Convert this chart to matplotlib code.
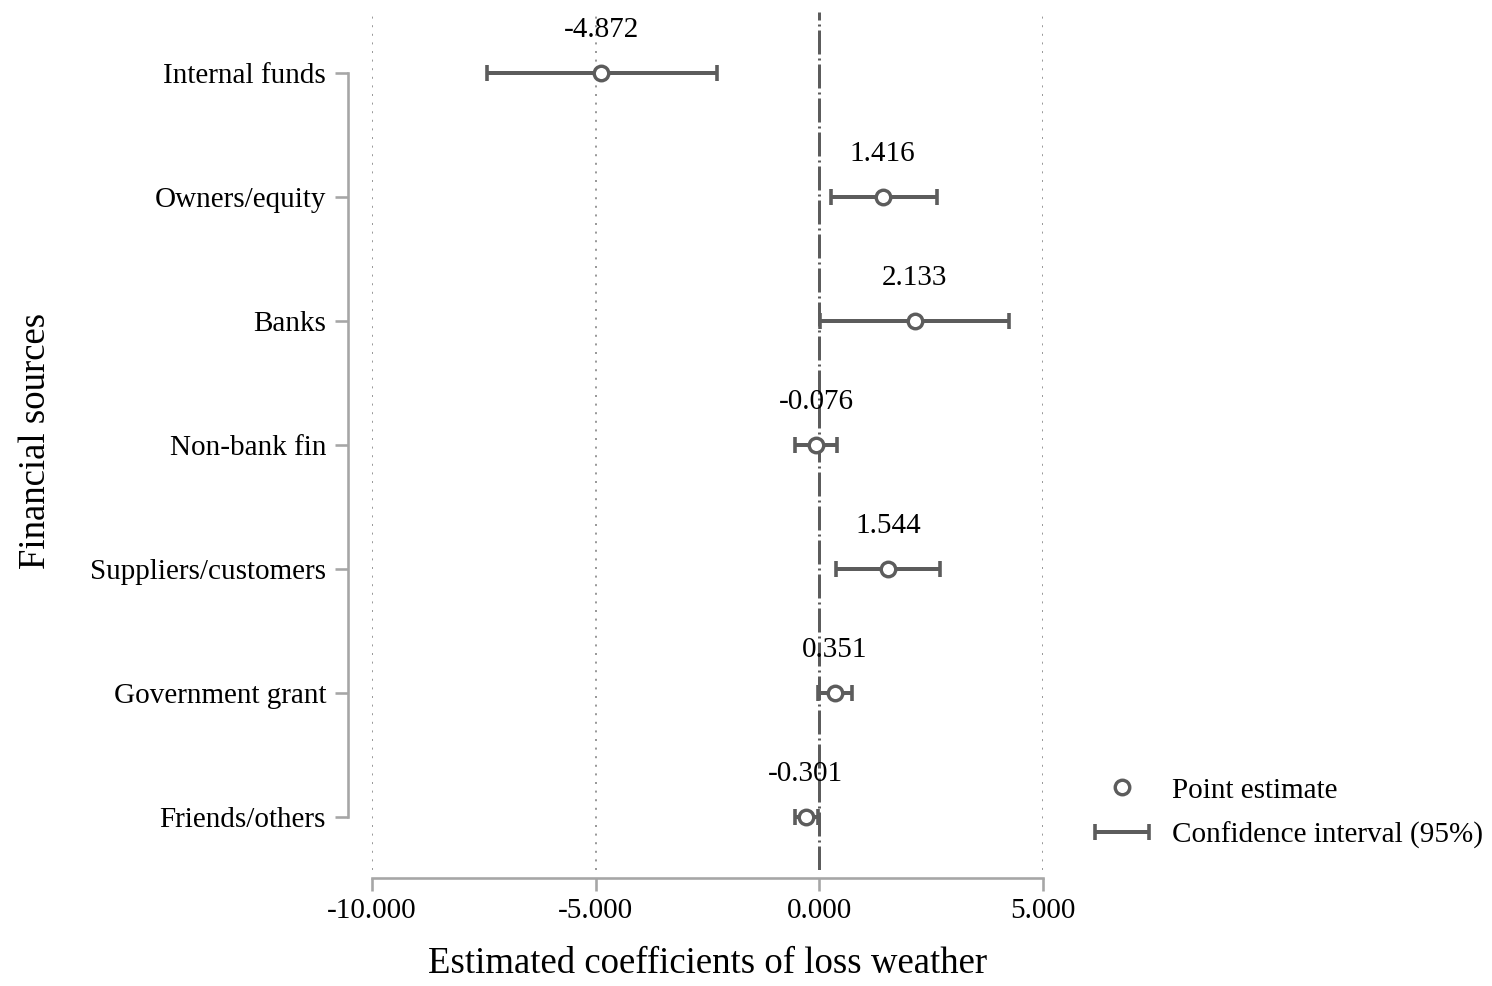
import matplotlib
matplotlib.use("Agg")
import matplotlib.pyplot as plt
from matplotlib.container import ErrorbarContainer
from matplotlib.legend_handler import HandlerErrorbar
import numpy as np

# ---- data ----
categories = ["Internal funds", "Owners/equity", "Banks", "Non-bank fin",
              "Suppliers/customers", "Government grant", "Friends/others"]
estimates = [-4.872, 1.416, 2.133, -0.076, 1.544, 0.351, -0.301]
ci_low = [-7.42, 0.25, 0.02, -0.54, 0.38, -0.02, -0.54]
ci_high = [-2.28, 2.62, 4.25, 0.40, 2.70, 0.74, -0.02]
x_ticks = [-10, -5, 0, 5]
x_tick_labels = ["-10.000", "-5.000", "0.000", "5.000"]

plt.rcParams['font.family'] = ['Liberation Serif', 'DejaVu Serif']
plt.rcParams['lines.scale_dashes'] = False

DPI = 100
fig = plt.figure(figsize=(14.92, 9.86), dpi=DPI)
W, H = 1492, 986
ax = fig.add_axes([372 / W, 1 - 870 / H, (1043 - 372) / W, (870 - 12) / H])

col = '#5c5c5c'
spine_col = '#a6a6a6'
px = 72.0 / DPI  # points per pixel

y = np.arange(len(categories))
est = np.array(estimates)
lo = np.array(ci_low)
hi = np.array(ci_high)

# grid lines (dotted)
for gx in [-10, -5, 5]:
    ax.axvline(gx, color='#9a9a9a', lw=2.0 * px, linestyle=(0, (2.0 * px, 6.6 * px)), zorder=0)
# zero reference line (dash-dot)
ax.axvline(0, color=col, lw=3.0 * px,
           linestyle=(0, (24 * px, 4 * px, 2 * px, 4 * px)), zorder=1)

eb = ax.errorbar(est, y, xerr=[est - lo, hi - est], fmt='none', ecolor=col,
                 elinewidth=4.0 * px, capsize=8 * px, capthick=3.6 * px, zorder=3,
                 label='Confidence interval (95%)')
pt, = ax.plot(est, y, linestyle='none', marker='o', markersize=14.5 * px,
              markerfacecolor='white', markeredgecolor=col, markeredgewidth=3.4 * px,
              zorder=4, label='Point estimate')

for xi, yi in zip(est, y):
    ax.annotate(f"{xi:.3f}", (xi, yi), xytext=(0, 36), textcoords='offset pixels',
                ha='center', va='baseline', fontsize=21, color='black', zorder=5)

ax.set_xlim(-10, 5)
ax.set_ylim(6.43, -0.49)
ax.set_yticks(y)
ax.set_yticklabels(categories)
ax.set_xticks(x_ticks)
ax.set_xticklabels(x_tick_labels)

for s in ['top', 'right']:
    ax.spines[s].set_visible(False)
ax.spines['left'].set_position(('outward', 24 * px))
ax.spines['left'].set_bounds(0, 6)
ax.spines['bottom'].set_position(('outward', 8 * px))
ax.spines['bottom'].set_bounds(-10, 5)
for s in ['left', 'bottom']:
    ax.spines[s].set_color(spine_col)
    ax.spines[s].set_linewidth(2.6 * px)

ax.tick_params(axis='both', colors=spine_col, labelcolor='black', labelsize=21,
               width=2.6 * px, length=13 * px)
ax.tick_params(axis='y', pad=9 * px)
ax.tick_params(axis='x', pad=7 * px)

ax.set_xlabel("Estimated coefficients of loss weather", fontsize=26.5)
ax.set_ylabel("Financial sources", fontsize=26.5)
ax.xaxis.set_label_coords(0.5, -0.089)
ax.yaxis.set_label_coords(-0.475, 0.5)

leg = fig.legend(handles=[pt, eb], labels=['Point estimate', 'Confidence interval (95%)'],
                 loc='center left', bbox_to_anchor=(1095 / W, 1 - 813 / H),
                 frameon=False, fontsize=21, handlelength=1.85, handletextpad=0.8,
                 labelspacing=0.62, borderpad=0, borderaxespad=0,
                 handler_map={ErrorbarContainer: HandlerErrorbar(xerr_size=0.93)})

fig.savefig("out.png", dpi=DPI)
